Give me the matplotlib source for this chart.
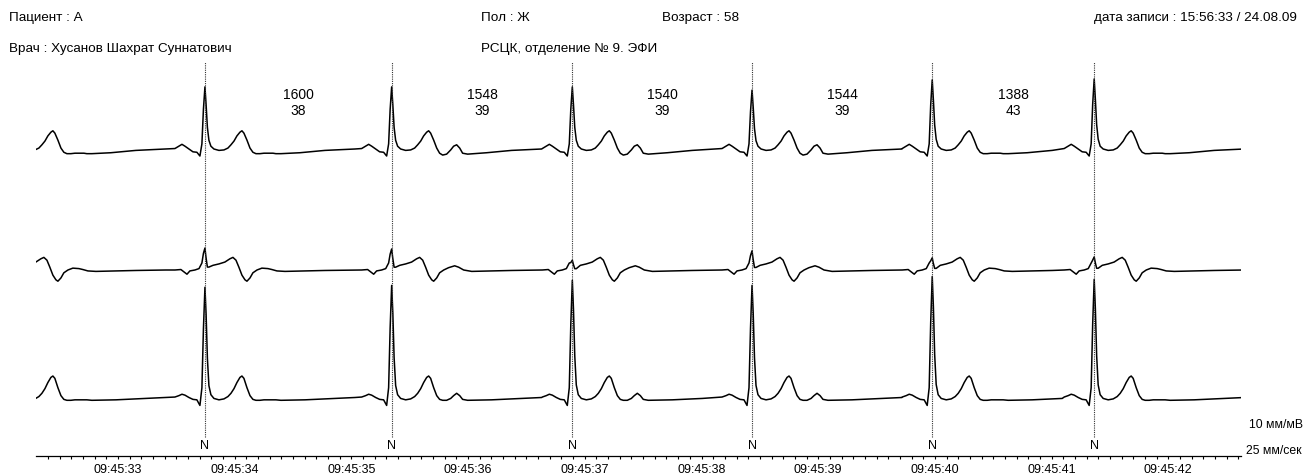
import numpy as np
import matplotlib.pyplot as plt

# значения
rr_ms = [1600, 1548, 1540, 1544, 1388]      # RR-интервалы, мс
hr_bpm = [38, 39, 39, 39, 43]               # ЧСС под интервалом
first_r_sec = 33.745                        # первый R: 09:45:33.745
prev_rr_ms = 1620                           # комплекс до начала записи (виден только T)

time_ticks = [33, 34, 35, 36, 37, 38, 39, 40, 41, 42]
time_labels = ['09:45:33', '09:45:34', '09:45:35', '09:45:36', '09:45:37',
               '09:45:38', '09:45:39', '09:45:40', '09:45:41', '09:45:42']

# форма комплекса по отведениям: время от R (мс), амплитуда (мВ)
lead1_t = [-257, -223, -197, -171, -137, -103, -69, -43, -26, -13, 0, 10, 21, 34, 51, 77,
           120, 163, 197, 223, 249, 274, 300, 317, 334, 360, 386, 411, 437, 471, 506,
           531, 557, 583, 608, 651, 814, 1028, 1285]
lead1_v = [0.01, 0.06, 0.10, 0.06, 0.00, -0.06, -0.07, -0.15, 0.11, 0.86, 1.35, 0.96, 0.47,
           0.19, 0.06, 0.00, -0.03, -0.02, 0.02, 0.09, 0.17, 0.28, 0.36, 0.39, 0.34, 0.19,
           0.02, -0.07, -0.10, -0.10, -0.09, -0.09, -0.09, -0.09, -0.10, -0.10, -0.08, -0.03, 0.00]
# небольшая волна после T (есть только во 2-4 комплексах)
lead1_u = [0, 0, 0, 0, 0, 0, 0, 0, 0, 0, 0, 0, 0, 0, 0, 0, 0, 0, 0, 0, 0, 0, 0, 0, 0, 0,
           0, -0.02, -0.03, -0.01, 0.07, 0.15, 0.18, 0.11, 0.01, -0.01, 0, 0, 0]

lead2_t = [-257, -206, -180, -154, -129, -86, -51, -26, -13, 0, 9, 21, 34, 69, 120, 171,
           214, 240, 266, 291, 317, 343, 360, 386, 411, 446, 488, 540, 574, 617, 686,
           1028, 1285]
lead2_v = [0.00, 0.01, -0.04, -0.09, -0.02, 0.00, 0.03, 0.15, 0.34, 0.45, 0.26, 0.06, 0.06,
           0.10, 0.13, 0.17, 0.24, 0.27, 0.21, 0.06, -0.11, -0.21, -0.24, -0.17, -0.06,
           0.00, 0.04, 0.03, 0.01, -0.02, -0.03, -0.01, 0.00]
lead2_u = [0, 0, 0, 0, 0, 0, 0, 0, 0, 0, 0, 0, 0, 0, 0, 0, 0, 0, 0, 0, 0, 0, 0, 0, 0,
           0, 0.01, 0.06, 0.05, 0.02, 0, 0, 0]

lead3_t = [-257, -223, -197, -171, -137, -103, -69, -43, -26, -13, 0, 10, 21, 34, 51, 77,
           120, 163, 197, 223, 249, 274, 300, 317, 334, 360, 386, 411, 437, 471, 506,
           531, 557, 583, 608, 651, 857, 1114, 1285]
lead3_v = [0.01, 0.04, 0.07, 0.05, 0.00, -0.04, -0.05, -0.17, 0.21, 1.50, 2.42, 1.82, 0.86,
           0.26, 0.06, -0.02, -0.05, -0.03, 0.02, 0.09, 0.19, 0.32, 0.43, 0.46, 0.41, 0.21,
           0.04, -0.04, -0.06, -0.06, -0.05, -0.05, -0.05, -0.05, -0.05, -0.06, -0.05, -0.02, 0.00]
lead3_u = [0, 0, 0, 0, 0, 0, 0, 0, 0, 0, 0, 0, 0, 0, 0, 0, 0, 0, 0, 0, 0, 0, 0, 0, 0, 0,
           0, 0, 0, 0, 0.03, 0.09, 0.14, 0.09, 0.01, 0, 0, 0, 0]

# амплитуда R по каждому комплексу, мВ, и есть ли волна после T
lead1_r = [1.33, 1.33, 1.33, 1.26, 1.48, 1.50]
lead2_r = [0.47, 0.45, 0.21, 0.41, 0.26, 0.28]
lead3_r = [2.36, 2.40, 2.51, 2.40, 2.59, 2.53]
u_wave = [0, 0, 1, 1, 1, 0, 0]               # включая комплекс до записи

plt.rcParams['font.family'] = ['Liberation Sans', 'DejaVu Sans']
plt.rcParams['font.size'] = 9

W, H = 1305, 474
PX_SEC = 116.7      # 25 мм/сек
PX_MV = 46.7        # 10 мм/мВ
X33 = 118           # где стоит 09:45:33
AX_L, AX_R, AX_B = 36, 1241, 456


def py(y_px):
    return (AX_B - y_px) / PX_MV


def build(beats, tmpl_t, tmpl_v, tmpl_u, r_amp):
    tt = np.array(tmpl_t) / 1000.0
    vv = np.array(tmpl_v)
    uu = np.array(tmpl_u)
    qrs = (tt > -0.02) & (tt < 0.045) & (vv > 0)
    ts, vs = [], []
    for i, r in enumerate(beats):
        v = vv + uu * u_wave[i]
        if r_amp[i] is not None:
            v[qrs] *= r_amp[i] / vv.max()
        t = r + tt
        if i + 1 < len(beats):
            keep = t < beats[i + 1] + tt[0]
            t, v = t[keep], v[keep]
        ts.append(t)
        vs.append(v)
    return np.concatenate(ts), np.concatenate(vs)


r_times = first_r_sec + np.concatenate([[0], np.cumsum(rr_ms) / 1000.0])
beats = np.concatenate([[r_times[0] - prev_rr_ms / 1000.0], r_times])

fig = plt.figure(figsize=(W / 100, H / 100), dpi=100)
ax = fig.add_axes([AX_L / W, (H - AX_B) / H, (AX_R - AX_L) / W, AX_B / H])
ax.set_xlim(33 + (AX_L - X33) / PX_SEC, 33 + (AX_R - X33) / PX_SEC)
ax.set_ylim(0, AX_B / PX_MV)

leads = [(lead1_t, lead1_v, lead1_u, lead1_r, 149),
         (lead2_t, lead2_v, lead2_u, lead2_r, 270),
         (lead3_t, lead3_v, lead3_u, lead3_r, 397.5)]
for tt, vv, uu, ra, base_px in leads:
    t, v = build(beats, tt, vv, uu, [None] + ra)
    ax.plot(t, v + py(base_px), color='black', lw=1.1)

ax.vlines(r_times, py(437), py(62), colors='#333333', linestyles=(0, (1, 1)), lw=0.8)
for r in r_times:
    ax.text(r, py(446), 'N', ha='center', va='center')
for i, (rr, hr) in enumerate(zip(rr_ms, hr_bpm)):
    mid = (r_times[i] + r_times[i + 1]) / 2
    ax.text(mid, py(95), str(rr), ha='center', va='center', fontsize=10)
    ax.text(mid, py(111), str(hr), ha='center', va='center', fontsize=10)

for s in ['top', 'left', 'right']:
    ax.spines[s].set_visible(False)
ax.spines['bottom'].set_linewidth(0.9)
ax.set_yticks([])
ax.set_xticks(time_ticks)
ax.set_xticklabels(time_labels)
ax.set_xticks(np.arange(32.4, 42.65, 0.1), minor=True)
ax.tick_params(axis='x', which='both', direction='out', length=2.5, width=0.8, pad=3)


def ftext(x, y, s, size=9.7, **kw):
    fig.text(x / W, 1 - y / H, s, va='center', fontsize=size, **kw)


ftext(9, 18, 'Пациент : А')
ftext(9, 49, 'Врач : Хусанов Шахрат Суннатович')
ftext(481, 18, 'Пол : Ж')
ftext(481, 49, 'РСЦК, отделение № 9. ЭФИ')
ftext(662, 18, 'Возраст : 58')
ftext(1297, 18, 'дата записи : 15:56:33 / 24.08.09', ha='right')
ftext(1249, 425, '10 мм/мВ', size=8.8)
ftext(1246, 451, '25 мм/сек', size=8.8)

fig.savefig('out.png', dpi=100)
